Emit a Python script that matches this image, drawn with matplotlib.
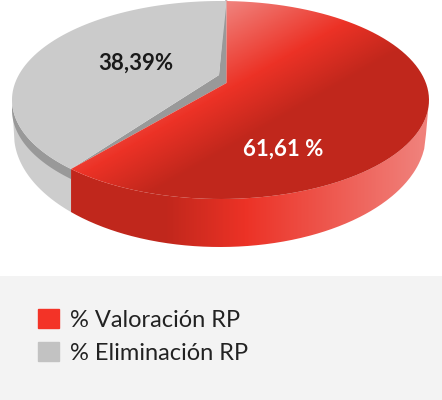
import numpy as np
import matplotlib
matplotlib.use('Agg')
import matplotlib.pyplot as plt
from matplotlib.colors import LinearSegmentedColormap
from matplotlib.patches import Patch, PathPatch, Rectangle
from matplotlib.path import Path

labels = ['% Valoración RP', '% Eliminación RP']
values = [61.61, 38.39]
value_text = ['61,61 %', '38,39%']
legend_colors = ['#F33327', '#C2C2C2']

W, H = 442, 400
cx, cy, a, b = 220.5, 100, 208.5, 99
# bottom outline of the wall is a different ellipse
bx, by, ba, bb = 220, 134, 206, 113
apex = (226.5, 83)
inner = (219, 75)
start = 88.0     # top seam
skew = 2.0       # the 3d view pulls the lower seam round a little

plt.rcParams['font.family'] = ['Lato', 'DejaVu Sans']
fig = plt.figure(figsize=(W / 100, H / 100), dpi=100)
ax = fig.add_axes([0, 0, 1, 1])
ax.set_xlim(0, W)
ax.set_ylim(H, 0)
ax.axis('off')


def rim(t0, t1, dy=0.0, n=200):
    t = np.radians(np.linspace(t0, t1, n))
    return np.column_stack([cx + a * np.cos(t), cy + dy - b * np.sin(t)])


def floor(x0, x1, n=200):
    x = np.linspace(x0, x1, n)
    return np.column_stack([x, by + bb * np.sqrt(np.clip(1 - ((x - bx) / ba) ** 2, 0, 1))])


def fill_gradient(poly, grid, cmap, zorder):
    patch = PathPatch(Path(np.vstack([poly, poly[:1]])), fc='none', ec='none')
    ax.add_patch(patch)
    im = ax.imshow(grid, extent=(0, W, H, 0), cmap=cmap, vmin=0, vmax=1,
                   interpolation='bilinear', aspect='auto', zorder=zorder)
    im.set_clip_path(patch)


xx, yy = np.meshgrid(np.arange(W) + 0.5, np.arange(H) + 0.5)

end = start - 3.6 * values[0] - skew
seam = rim(end, end, 0, 2)[0]

# side walls
ax.add_patch(PathPatch(Path(np.vstack([rim(180, end + 360), floor(seam[0], 14.5)])),
                       fc='#CDCDCD', ec='none', zorder=1))
side_poly = np.vstack([rim(end, 0), floor(426, seam[0])])
side_cmap = LinearSegmentedColormap.from_list(
    'side', [(0, '#C0271C'), (0.27, '#C0271C'), (0.5, '#EC3226'), (1, '#F0807A')])
fill_gradient(side_poly, np.clip((xx - 70) / 350, 0, 1), side_cmap, 2)

# dark edge under the grey slice
dark = np.vstack([rim(180, end + 360, 10), [seam], [apex], [(226.5, 0)], [(225.5, 0)],
                  [inner], rim(end + 360, 180)])
ax.add_patch(PathPatch(Path(dark), fc='#999999', ec='none', zorder=3))

# grey top
grey = np.vstack([[inner], rim(end + 360, start + 0.3)])
ax.add_patch(PathPatch(Path(np.vstack([grey, grey[:1]])), fc='#CBCBCB', ec='none', zorder=4))

# red top
top_poly = np.vstack([[apex], [(apex[0], 0)], rim(start, end)])
top_cmap = LinearSegmentedColormap.from_list(
    'top', [(0, '#F0807A'), (0.56, '#EC3226'), (0.95, '#C0271C'), (1, '#C0271C')])
fill_gradient(top_poly, np.clip((0.5 * xx + 0.868 * yy - 118) / 132, 0, 1), top_cmap, 5)

ax.text(283, 149, value_text[0], color='white', fontsize=16, fontweight='bold',
        ha='center', va='center', zorder=6)
ax.text(136, 63, value_text[1], color='#1A1A1A', fontsize=16, fontweight='bold',
        ha='center', va='center', zorder=6)

# legend box
ax.add_patch(Rectangle((0, 276), W, H - 276, fc='#F3F3F3', ec='none', zorder=0))
handles = [Patch(color=c) for c in legend_colors]
ax.legend(handles, labels, loc='upper left', bbox_to_anchor=(38 / W, 1 - 309 / H),
          bbox_transform=fig.transFigure, frameon=False, fontsize=17, borderpad=0,
          borderaxespad=0, handlelength=0.89, handleheight=0.89, handletextpad=0.47,
          labelspacing=0.47, labelcolor='#222222')

fig.savefig('out.png', dpi=100)
